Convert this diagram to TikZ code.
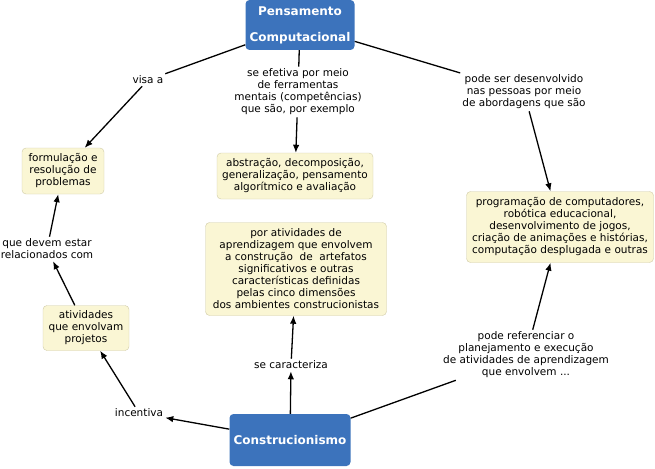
\documentclass[tikz,border=0pt]{standalone}
\usepackage{fontspec}
\setmainfont{DejaVu Sans}
\usetikzlibrary{arrows.meta}
\definecolor{mapblue}{HTML}{3C73BC}
\definecolor{mapfill}{HTML}{FAF6D4}
\definecolor{mapline}{HTML}{CFCAA6}

\begin{document}
\begin{tikzpicture}
  [x=1pt, y=-1pt, font=\fontsize{10.5}{12}\selectfont,
   concept/.style={rectangle, rounded corners=4pt, draw=mapline, fill=mapfill,
     align=center, inner sep=0pt},
   topic/.style={rectangle, rounded corners=4pt, fill=mapblue, text=white,
     align=center, inner sep=0pt, font=\fontsize{12}{13}\selectfont\bfseries},
   linkword/.style={align=center, inner sep=2pt},
   link/.style={line width=1.3pt},
   arr/.style={link, -{Latex[length=8pt, width=6.5pt]}}]
  \useasboundingbox (0,0) rectangle (655,468);

  % main concepts
  \node[topic, minimum width=109pt, minimum height=50pt]
    (pc) at (300,25) {Pensamento\\ \\Computacional};
  \node[topic, minimum width=121pt, minimum height=52pt]
    (constr) at (290,440) {Construcionismo};

  % concepts
  \node[concept, minimum width=82pt, minimum height=46pt]
    (form) at (63,171) {formulação e\\resolução de\\problemas};
  \node[concept, minimum width=156pt, minimum height=46pt]
    (abst) at (295,176) {abstração, decomposição,\\generalização, pensamento\\algorítmico e avaliação};
  \node[concept, minimum width=187pt, minimum height=71pt]
    (prog) at (560,227) {programação de computadores,\\robótica educacional,\\desenvolvimento de jogos,\\criação de animações e histórias,\\computação desplugada e outras};
  \node[concept, minimum width=181pt, minimum height=93pt]
    (ativ) at (296,269) {por atividades de\\aprendizagem que envolvem\\a construção~ de~ artefatos\\significativos e outras\\características definidas\\pelas cinco dimensões\\dos ambientes construcionistas};
  \node[concept, minimum width=86pt, minimum height=45pt]
    (proj) at (86,328) {atividades\\que envolvam\\projetos};

  % linking words
  \node[linkword] (visa) at (148,80) {visa a};
  \node[linkword] (efet) at (298,92) {se efetiva por meio\\de ferramentas\\mentais (competências)\\que são, por exemplo};
  \node[linkword] (desenv) at (524,92) {pode ser desenvolvido\\nas pessoas por meio\\de abordagens que são};
  \node[linkword] (devem) at (47,249) {que devem estar\\relacionados com};
  \node[linkword] (carac) at (291,365) {se caracteriza};
  \node[linkword] (incent) at (139,413) {incentiva};
  \node[linkword] (refer) at (526,355) {pode referenciar o\\planejamento e execução\\de atividades de aprendizagem\\que envolvem ...};

  % connectors
  \foreach \from/\to in {pc/visa,pc/efet,pc/desenv,constr/refer}{
    \draw[link] (\from) -- (\to);}
  \foreach \from/\to in {visa/form,efet/abst,desenv/prog,refer/prog,
                  constr/carac,carac/ativ,constr/incent,incent/proj,
                  proj/devem,devem/form}{
    \draw[arr] (\from) -- (\to);}
\end{tikzpicture}
\end{document}
